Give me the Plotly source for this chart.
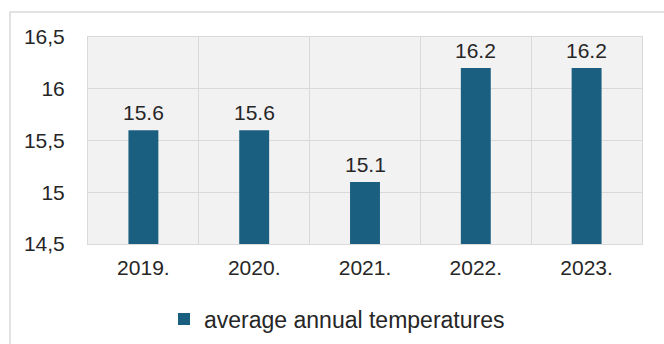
import plotly.graph_objects as go

years = ["2019.", "2020.", "2021.", "2022.", "2023."]
temps = [15.6, 15.6, 15.1, 16.2, 16.2]
labels = ["15.6", "15.6", "15.1", "16.2", "16.2"]
series_name = "average annual temperatures"
y_ticks = [14.5, 15, 15.5, 16, 16.5]
y_ticktext = ["14,5", "15", "15,5", "16", "16,5"]

FS = 21
fig = go.Figure()
fig.add_trace(go.Bar(
    x=years, y=temps, name=series_name,
    marker=dict(color="#1a5e80", line=dict(width=0)),
    width=0.27,
))

for i, (v, t) in enumerate(zip(temps, labels)):
    fig.add_annotation(x=i, y=v, xref="x", yref="y", text=t, showarrow=False,
                       yanchor="bottom", yshift=4,
                       font=dict(size=FS, color="#262626"))

W, H = 664, 344
L, R, T, B = 88, 22, 37, 100
pw, ph = W - L - R, H - T - B
def px(x): return (x - L) / pw
def py(y): return (H - B - y) / ph

fig.add_shape(type="path", xref="paper", yref="paper",
              path=f"M {px(10)} {py(350)} L {px(10)} {py(12)} L {px(670)} {py(12)}",
              line=dict(color="#d9d9d9", width=1.5))

fig.update_layout(
    width=W, height=H,
    margin=dict(l=L, r=R, t=T, b=B, autoexpand=False),
    paper_bgcolor="white", plot_bgcolor="#f2f2f2",
    font=dict(family="Liberation Sans, Arial, sans-serif", size=FS, color="#262626"),
    showlegend=True,
    legend=dict(x=px(164), y=py(319), xanchor="left", yanchor="middle",
                font=dict(size=23, color="#262626"), bgcolor="rgba(0,0,0,0)",
                itemwidth=30),
    xaxis=dict(type="category", categoryorder="array", categoryarray=years,
               tickson="boundaries", showgrid=True, automargin=False,
               gridcolor="#d9d9d9", gridwidth=1, ticks="", showline=True,
               linecolor="#d9d9d9", mirror=True, ticklabelstandoff=5,
               tickangle=0, tickfont=dict(size=FS, color="#262626")),
    yaxis=dict(range=[14.5, 16.5], tickvals=y_ticks, ticktext=y_ticktext,
               showgrid=True, gridcolor="#d9d9d9", gridwidth=1, ticks="",
               automargin=False,
               zeroline=False, showline=True, linecolor="#d9d9d9", mirror=True,
               ticklabelstandoff=18, tickfont=dict(size=FS, color="#262626")),
)

fig.write_html("out.html")
